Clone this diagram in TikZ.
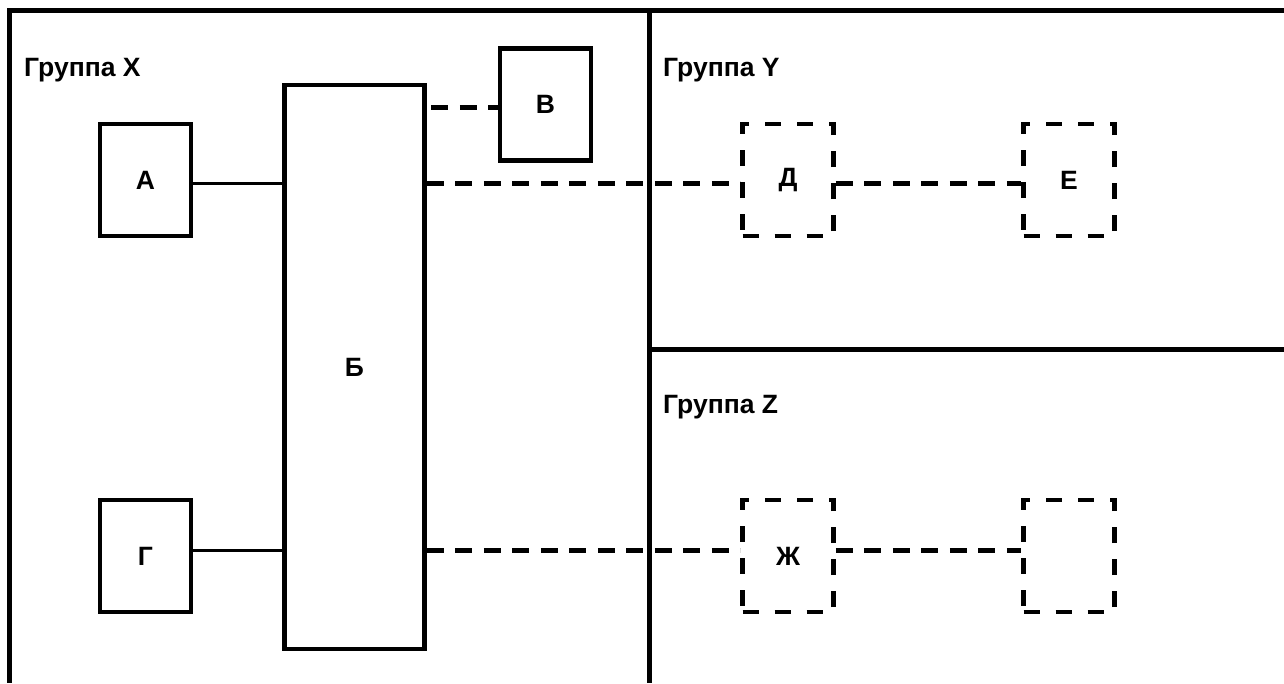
\documentclass[tikz,border=0pt]{standalone}
\usepackage{fontspec}
\setmainfont{Liberation Sans}
\begin{document}
\begin{tikzpicture}[x=1pt,y=-1pt,
  frameline/.style={line width=5pt, line join=miter},
  lbl/.style={font=\fontsize{26.5}{31}\selectfont\bfseries},
  box/.style={draw, line width=4.5pt, rectangle, minimum width=91pt, minimum height=112pt, inner sep=0pt, lbl},
  dbox/.style={box, dash pattern=on 16pt off 16pt},
  solidlink/.style={line width=3pt},
  dlink/.style={line width=5pt, dash pattern=on 17pt off 11.5pt},
  grp/.style={anchor=base west, inner sep=0pt, lbl}]
\useasboundingbox (0,0) rectangle (1284,683);
% frame and dividers
\draw[frameline] (1284,10.5) -- (9,10.5) -- (9,683);
\draw[frameline] (649.5,10.5) -- (649.5,683);
\draw[frameline] (649.5,349.5) -- (1284,349.5);
% group titles
\node[grp] (gx) at (24,76) {Группа X};
\node[grp] (gy) at (663,76) {Группа Y};
\node[grp] (gz) at (663,413) {Группа Z};
% boxes
\node[box] (A) at (145.5,180) {А};
\node[box, minimum width=140pt, minimum height=564pt] (B) at (354.5,367) {Б};
\node[box] (V) at (545.5,104.5) {В};
\node[box] (G) at (145.5,556) {Г};
\node[dbox] (D) at (788,180) {Д};
\node[dbox] (E) at (1069,180) {Е};
\node[dbox] (Zh) at (788,556) {Ж};
\node[dbox] (N) at (1069,556) {};
% connectors
\draw[solidlink] ([yshift=-3pt]A.east) -- ([yshift=-3pt]A.east -| B.west);
\draw[solidlink] ([yshift=6pt]G.east) -- ([yshift=6pt]G.east -| B.west);
\draw[dlink, dash phase=-4.5pt] ([yshift=-2.5pt]V.west -| B.east) -- ([yshift=-2.5pt]V.west);
\draw[dlink] ([yshift=-3pt]D.west -| B.east) -- ([yshift=-3pt]D.west);
\draw[dlink] ([yshift=-3pt]D.east) -- ([yshift=-3pt]E.west);
\draw[dlink] ([yshift=6pt]Zh.west -| B.east) -- ([yshift=6pt]Zh.west);
\draw[dlink] ([yshift=6pt]Zh.east) -- ([yshift=6pt]N.west);
\end{tikzpicture}
\end{document}
